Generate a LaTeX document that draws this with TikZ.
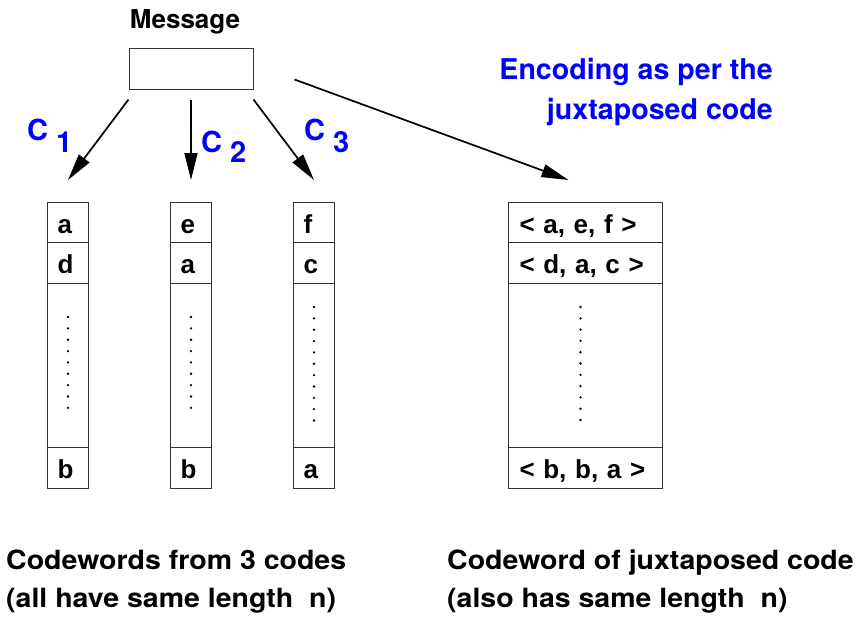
\documentclass[tikz,border=0pt]{standalone}
\usepackage{fontspec}
\setmainfont{TeX Gyre Heros}
\newfontfamily\cellfont{Liberation Sans}
\newfontfamily\widefont[FakeStretch=1.075]{TeX Gyre Heros}
\usetikzlibrary{arrows.meta,positioning}

\tikzset{
  cell/.style={draw=black!80,line width=1pt,anchor=north west,inner ysep=0pt,inner xsep=10pt,
    minimum height=41pt,text width=21pt,align=left,text height=22pt,text depth=1pt,
    font=\cellfont\fontsize{26}{30}\selectfont\bfseries},
  bigcell/.style={cell,inner xsep=11pt,text width=132pt},
  arr/.style={line width=1.7pt,-{Triangle[length=27pt,width=13pt]}},
  clabel/.style={anchor=base west,inner sep=0pt,text=blue,font=\fontsize{29}{34}\selectfont\bfseries},
  note/.style={anchor=north west,inner sep=0pt,align=left,font=\widefont\fontsize{26.5}{38}\selectfont\bfseries}
}

\begin{document}
\begin{tikzpicture}[x=1pt,y=-1pt]
\useasboundingbox (0,0) rectangle (860,619);
% message
\node[draw=black!80,line width=1pt,minimum width=124pt,minimum height=41pt,inner sep=0pt] at (191,68.5)(msg){};
\node[anchor=base,inner sep=0pt,font=\fontsize{26}{30}\selectfont\bfseries] at (185,28)(msglabel){Message};
% the three codewords
\foreach \x/\p/\q/\r/\n/\o/\m in {47/a/d/b/one/34/8, 170/e/a/b/two/34/8, 293/f/c/a/three/24/10}{
    \node[cell,minimum height=40pt] at (\x,202)(\n-1){\p};
    \node[cell] at (\x,242)(\n-2){\q};
    \node[cell,minimum height=164pt] at (\x,283)(\n-mid){};
    \node[cell] at (\x,447)(\n-last){\r};
    \foreach \k in {0,...,\m}
        \fill (\n-mid.north) ++(0,\o+\k*11.35) circle (1.3pt);
}
% juxtaposed codeword
\node[bigcell,minimum height=40pt] at (508,202)(big-1){< a, e, f >};
\node[bigcell] at (508,242)(big-2){< d, a, c >};
\node[bigcell,minimum height=164pt] at (508,283)(big-mid){};
\node[bigcell] at (508,447)(big-last){< b, b, a >};
\foreach \k in {0,...,10}
    \fill (big-mid.north) ++(-5,24+\k*11.3) circle (1.3pt);
% encoders
\draw[arr] ([yshift=-10pt]msg.south west) -- ([yshift=22pt]one-1.north);
\draw[arr] ([yshift=-10pt]msg.south) -- ([yshift=22pt]two-1.north);
\draw[arr] ([yshift=-10pt]msg.south east) -- ([yshift=22pt]three-1.north);
\draw[arr] ([xshift=41pt,yshift=10pt]msg.south east) -- ([xshift=-17pt,yshift=22pt]big-1.north);
\node[clabel] at (27,140)(c1){C \raisebox{-12pt}{1}};
\node[clabel] at (201,152)(c2){C \raisebox{-10pt}{2}};
\node[clabel] at (304,140)(c3){C \raisebox{-12pt}{3}};
\node[anchor=north east,inner sep=0pt,align=right,text=blue,font=\fontsize{28.6}{40}\selectfont\bfseries] at (773,58)(enc){Encoding as per the\\juxtaposed code};
% captions
\node[note] at (6,550)(left){Codewords from 3 codes\\(all have same length\ \ n)};
\node[note] at (447,550)(right){Codeword of juxtaposed code\\(also has same length\ \ n)};
\end{tikzpicture}
\end{document}
